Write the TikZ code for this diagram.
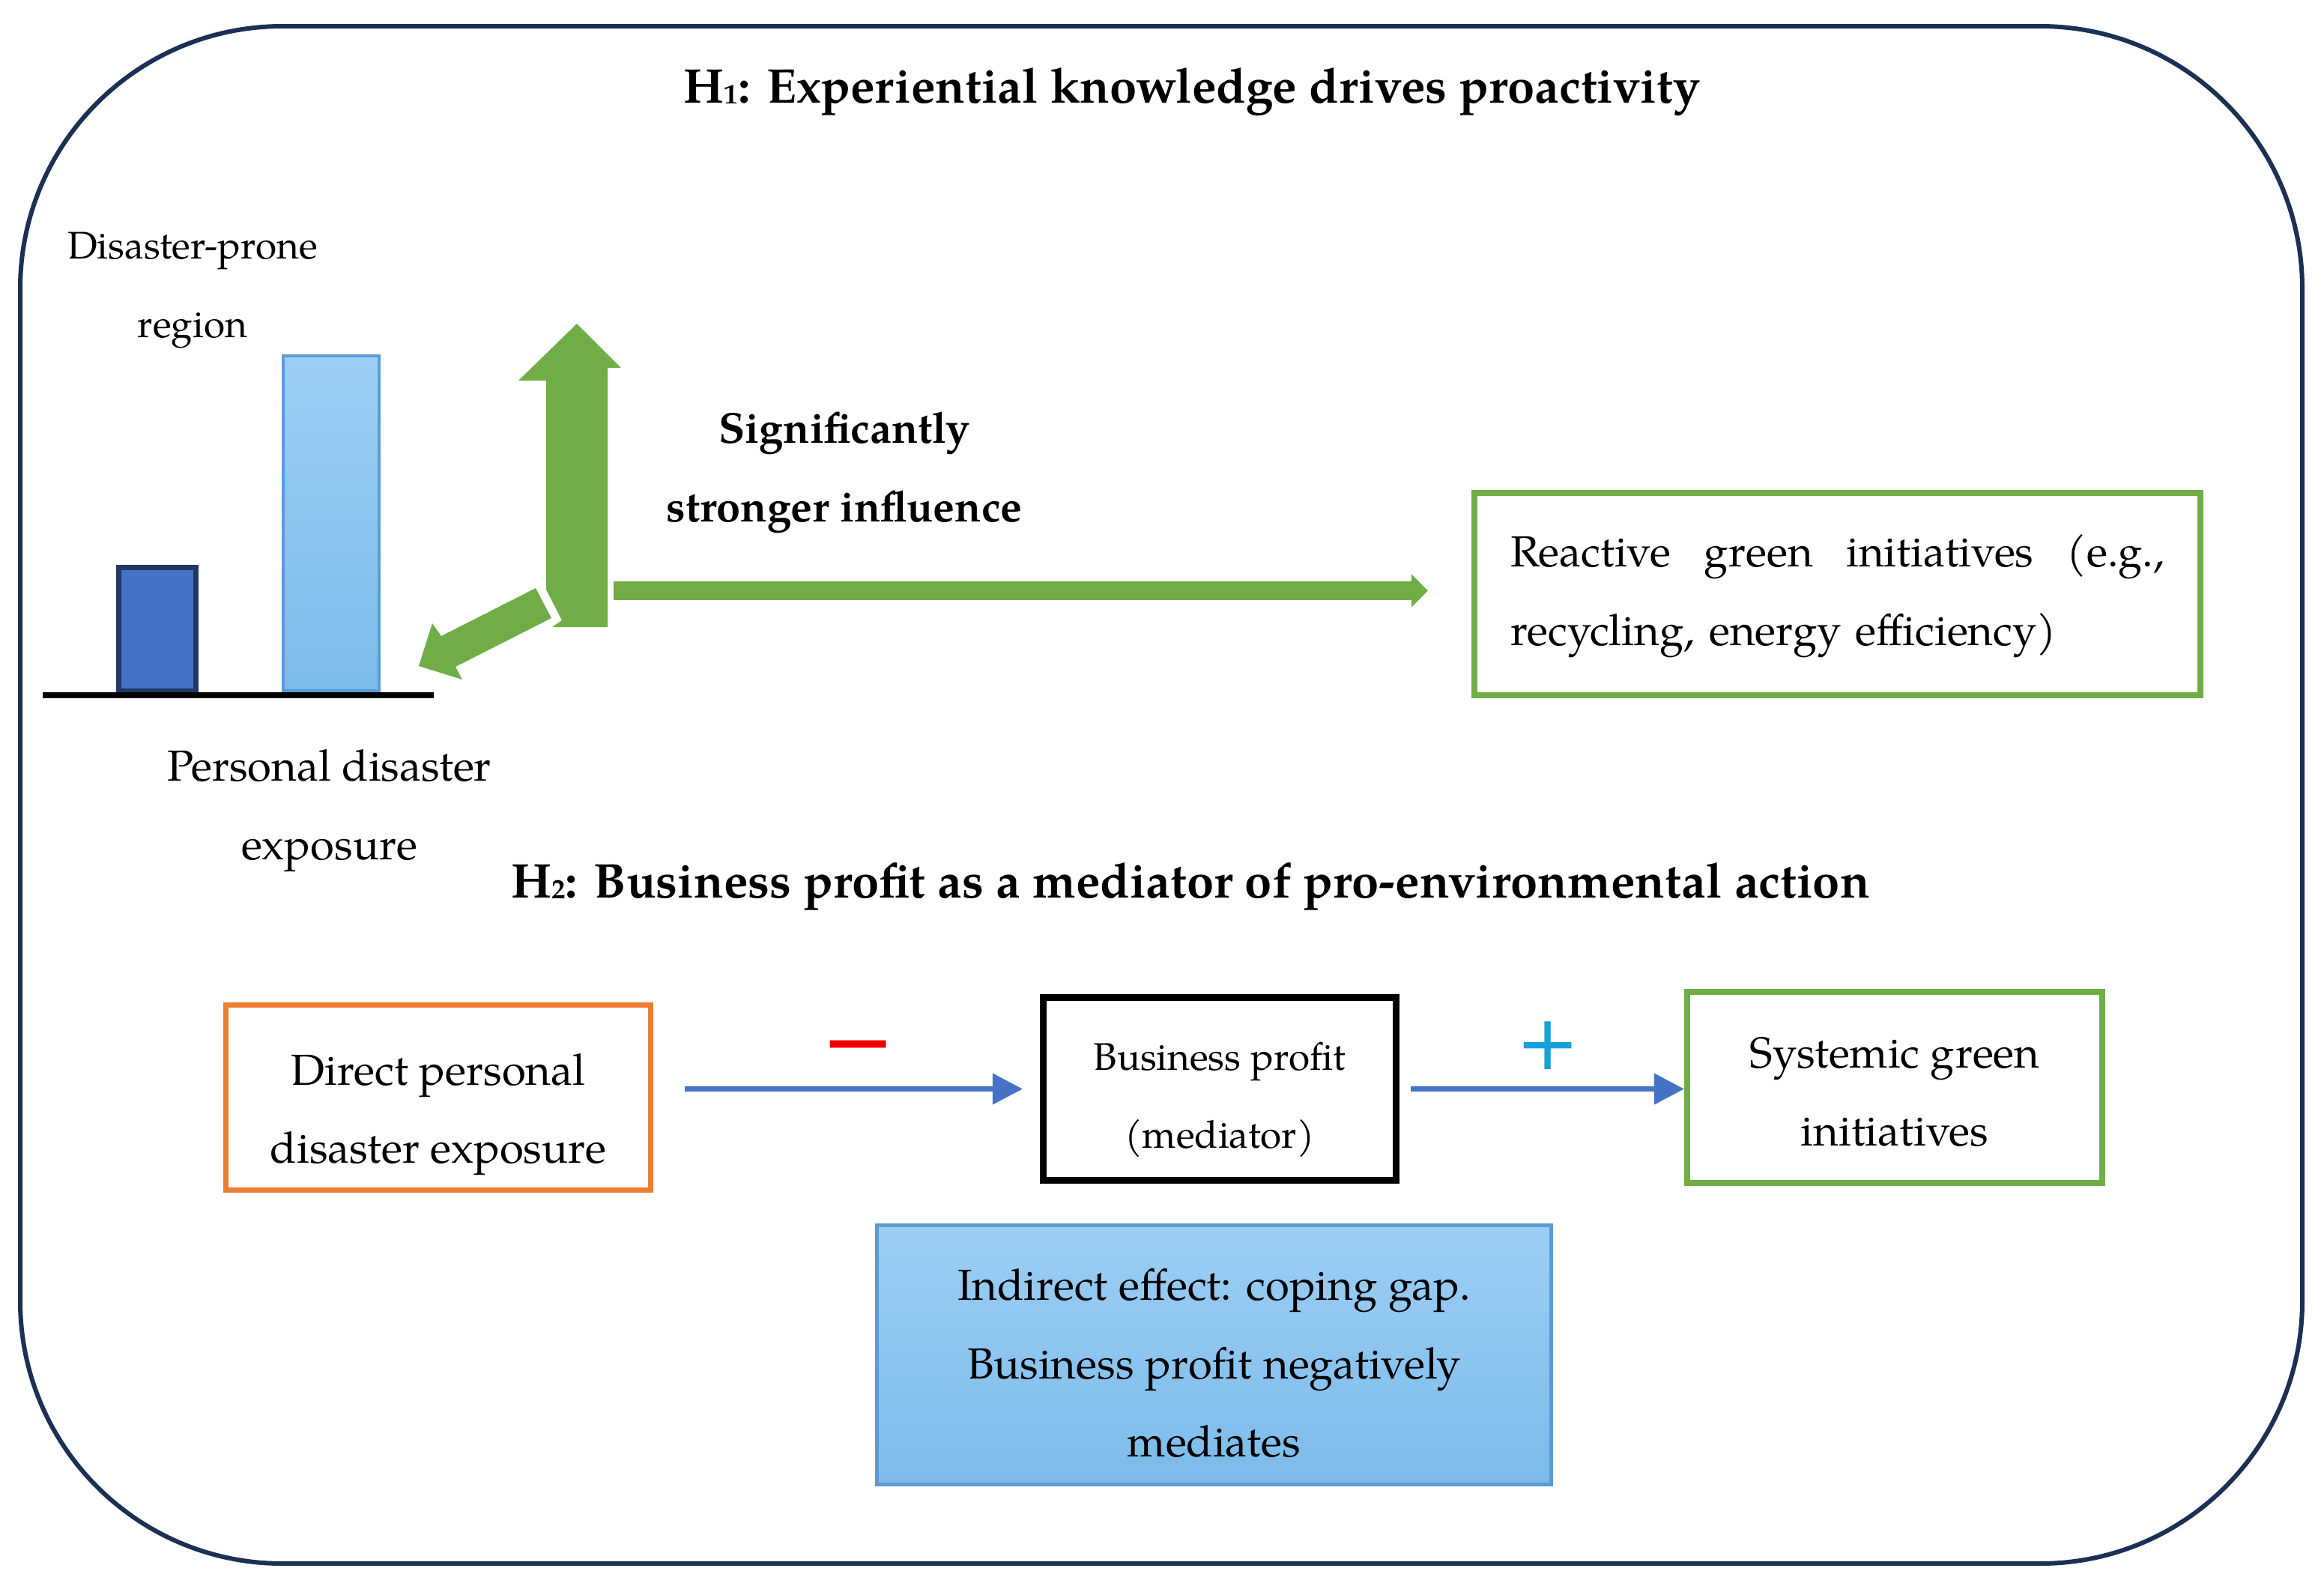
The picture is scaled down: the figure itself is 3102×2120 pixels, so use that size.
\documentclass[tikz,border=0pt]{standalone}
\usepackage{fontspec}
\setmainfont{TeX Gyre Pagella}
\newfontfamily\signfont{DejaVu Sans}
\usetikzlibrary{arrows.meta}
\newlength\pxl
\setlength\pxl{0.01cm}
\newcommand\topst[1]{\rule{0pt}{#1\pxl}}
\newcommand\botst{\rule[-36.5\pxl]{0pt}{36.5\pxl}}
\newcommand\subdig[1]{{\fontsize{10.5}{10.5}\selectfont\raisebox{-0.3pt}{#1}}}
\definecolor{framec}{HTML}{1C2F55}
\definecolor{gr}{HTML}{70AD47}
\definecolor{orng}{HTML}{ED7D31}
\definecolor{arrblue}{HTML}{4472C4}
\definecolor{barblue}{HTML}{4472C4}
\definecolor{navy}{HTML}{1F3864}
\definecolor{lbb}{HTML}{5B9BD5}
\definecolor{lbtop}{HTML}{9DCEF4}
\definecolor{lbbot}{HTML}{7BBBEA}
\definecolor{plusblue}{HTML}{15A0DA}
\definecolor{minred}{HTML}{EE0000}
\tikzset{
  txt/.style={font=\fontsize{16.5}{29.7}\selectfont, align=center, inner sep=0pt},
  txtsm/.style={font=\fontsize{14.6}{29.7}\selectfont, align=center, inner sep=0pt},
  txtb/.style={font=\fontsize{16.4}{29.7}\selectfont\bfseries, align=center, inner sep=0pt},
  ttl/.style={font=\fontsize{18.5}{22}\selectfont\bfseries, inner sep=0pt, anchor=base},
  box/.style={draw, inner sep=0pt, align=center, font=\fontsize{16.5}{29.7}\selectfont},
  sign/.style={inner sep=0pt, anchor=base},
  barr/.style={draw=arrblue, line width=0.07cm, -{Triangle[length=0.4cm,width=0.4cm]}},
  garr/.style={draw=gr, line width=0.25cm, -{Triangle[length=0.22cm,width=0.43cm]}},
}
\begin{document}
\begin{tikzpicture}[x=0.01cm, y=-0.01cm]
\useasboundingbox (0,0) rectangle (3102,2120);
% outer frame
\draw[framec, line width=6\pxl, rounded corners=350\pxl] (27,35) rectangle (3073,2087);

% titles
\node[ttl] (h1) at (1591,137) {H\subdig{1}: Experiential knowledge drives proactivity};
\node[ttl] (h2) at (1589,1198) {H\subdig{2}: Business profit as a mediator of pro-environmental action};

% bar chart
\node[txtsm] (dpr) at (257,382.5) {\topst{67.9}Disaster-prone\\region\botst};
\draw[draw=navy, fill=barblue, line width=7\pxl] (158.5,757.5) rectangle (261.5,922.5);
\draw[draw=lbb, line width=4\pxl, top color=lbtop, bottom color=lbbot] (378,475) rectangle (506,922);
\draw[black, line width=8\pxl] (57,928) -- (579,928);
\node[txt] (pde) at (439.5,1079.5) {\topst{67.9}Personal disaster\\exposure\botst};

% green arrows
\fill[gr] (770,432) -- (829,491) -- (811,491) -- (811,837) -- (737,837) -- (750,828)
  -- (729,787) -- (729,508) -- (692,508) -- cycle;
\fill[gr] (715,785) -- (589,849) -- (577,832) -- (559,889) -- (617,907) -- (608,890)
  -- (736,825) -- cycle;
\node[txtb] (sig) at (1127,628.5) {\topst{67.9}Significantly\\stronger influence\botst};

% reactive box
\node[draw=gr, line width=8\pxl, text width=873\pxl, inner xsep=48\pxl, inner ysep=0pt,
  minimum height=270\pxl, align=left, font=\fontsize{16.5}{29.7}\selectfont]
  (rgi) at (2452.5,793)
  {\topst{68.9}Reactive\hfill green\hfill initiatives\hfill (e.g.,\\recycling, energy efficiency)\botst};
\coordinate (hs) at (819,788.5);
\draw[garr, shorten >=0.58cm] (hs) -- (hs -| rgi.west);

% H2 row
\node[box, draw=orng, line width=7\pxl, minimum width=567\pxl, minimum height=233\pxl]
  (dpe) at (585,1465) {\topst{106.9}Direct personal\\disaster exposure\botst};
\node[box, draw=black, line width=9\pxl, minimum width=471\pxl, minimum height=244\pxl,
  font=\fontsize{14.6}{29.7}\selectfont]
  (bp) at (1628,1453.5) {\topst{89.9}Business profit\\(mediator)\botst};
\node[box, draw=gr, line width=8\pxl, minimum width=554\pxl, minimum height=255\pxl]
  (sg) at (2529,1451.5) {\topst{87.9}Systemic green\\initiatives\botst};
\node[box, draw=lbb, line width=5\pxl, top color=lbtop, bottom color=lbbot,
  minimum width=900\pxl, minimum height=344\pxl]
  (ind) at (1620.5,1808.5) {\topst{100.3}Indirect effect: coping gap.\\Business profit negatively\\mediates\botst};

\draw[barr, shorten <=0.42cm, shorten >=0.23cm] (bp.west -| dpe.east) -- (bp.west);
\draw[barr, shorten <=0.15cm] (bp.east) -- (bp.east -| sg.west);

\node[sign, text=minred, font=\signfont\fontsize{34}{40}\selectfont] (minus) at (1146,1431.5) {−};
\node[sign, text=plusblue, font=\signfont\fontsize{28.9}{34}\selectfont] (plus) at (2066,1427.5) {+};
\end{tikzpicture}
\end{document}
